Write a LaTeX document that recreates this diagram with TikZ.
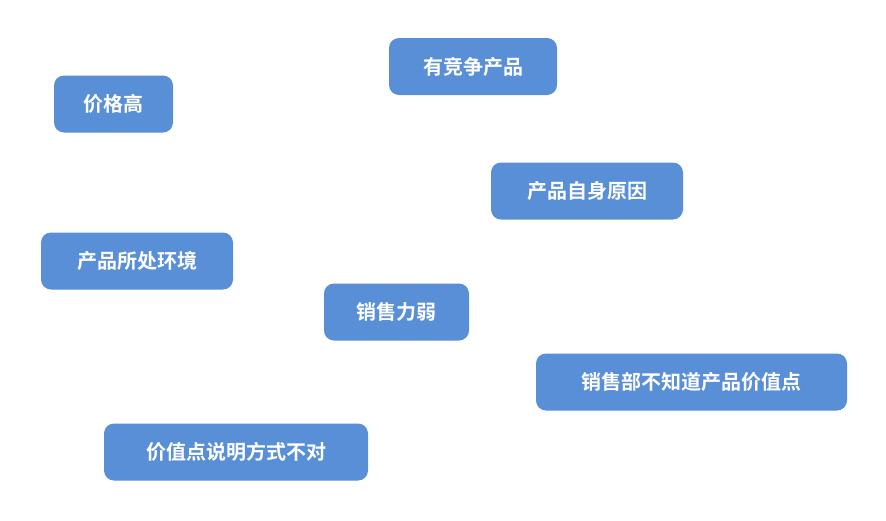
\documentclass[tikz,border=0pt]{standalone}
\usepackage{fontspec}
\newfontfamily\cjk{Noto Sans CJK SC}[BoldFont={Noto Sans CJK SC Bold}]
\definecolor{boxblue}{RGB}{88,143,214}
\begin{document}
\begin{tikzpicture}[x=1pt,y=-1pt,
    cause/.style={rectangle, rounded corners=10pt, fill=boxblue, text=white,
      font=\cjk\bfseries\fontsize{20}{24}\selectfont, minimum height=57pt, inner sep=0pt}]
  \useasboundingbox (0,0) rectangle (886,520);
  % ------ causes ------
  \node[cause, minimum width=168pt] (rival)   at (473,66.5)  {有竞争产品};
  \node[cause, minimum width=119pt] (price)   at (113.5,104) {价格高};
  \node[cause, minimum width=192pt] (self)    at (587,191)   {产品自身原因};
  \node[cause, minimum width=192pt] (env)     at (137,261)   {产品所处环境};
  \node[cause, minimum width=145pt] (weak)    at (396.5,312) {销售力弱};
  \node[cause, minimum width=311pt] (unaware) at (691.5,382) {销售部不知道产品价值点};
  \node[cause, minimum width=264pt] (explain) at (236,452)   {价值点说明方式不对};
\end{tikzpicture}
\end{document}
